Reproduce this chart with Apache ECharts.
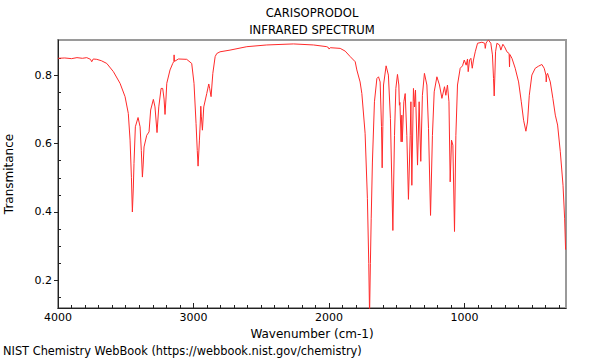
<!DOCTYPE html>
<html>
<head>
<meta charset="utf-8">
<script src="https://cdn.jsdelivr.net/npm/echarts@6/dist/echarts.min.js"></script>
<style>html,body{margin:0;padding:0;background:#fff}#c{width:600px;height:360px}</style>
</head>
<body>
<div id="c"></div>
<script>
const titleLines = ['CARISOPRODOL', 'INFRARED SPECTRUM'];
const xName = 'Wavenumber (cm-1)';
const yName = 'Transmitance';
const footer = 'NIST Chemistry WebBook (https://webbook.nist.gov/chemistry)';
const xMajorTicks = [1000, 2000, 3000, 4000];
const xMinorTicks = [300,400,500,600,700,800,900,1100,1200,1300,1400,1500,1600,1700,1800,1900,2100,2200,2300,2400,2500,2600,2700,2800,2900,3100,3200,3300,3400,3500,3600,3700,3800,3900];
const yMajorTicks = [0.2, 0.4, 0.6, 0.8];
const yMinorTicks = [0.15, 0.25, 0.3, 0.35, 0.45, 0.5, 0.55, 0.65, 0.7, 0.75, 0.85];

const wavenumber = [4000,3950,3900,3860,3820,3788,3760,3751,3740,3714,3680,3640,3591,3542,3505,3481,3468,3458,3451,3444,3439,3429,3409,3394,3385,3377,3371,3365,3345,3328,3316,3296,3284,3269,3256,3239,3227,3217,3210,3203,3197,3173,3153,3145,3143,3140,3111,3050,3013,2996,2981,2972,2966,2956,2950,2946,2942,2934,2924,2902,2887,2880,2870,2857,2840,2828,2804,2730,2606,2459,2262,2114,2016,2003,1999,1990,1917,1880,1843,1806,1794,1770,1757,1733,1716,1706,1700,1694,1688,1679,1664,1646,1634,1622,1612,1607,1602,1597,1578,1561,1546,1528,1516,1506,1494,1484,1480,1476,1467,1462,1459,1447,1437,1425,1413,1400,1395,1388,1378,1376,1368,1361,1346,1334,1322,1310,1295,1277,1265,1250,1236,1223,1203,1184,1166,1147,1137,1125,1114,1105,1095,1085,1073,1063,1051,1031,1014,1001,987,977,972,962,952,942,933,920,903,871,850,846,840,834,822,805,793,785,780,775,770,760,741,731,716,704,686,670,667,664,649,625,600,580,563,546,534,521,502,477,453,428,411,398,396,392,386,366,347,329,312,292,272,260,253];
const transmittance = [0.849,0.850,0.848,0.851,0.849,0.851,0.846,0.839,0.847,0.846,0.842,0.834,0.810,0.776,0.737,0.688,0.610,0.500,0.400,0.470,0.542,0.649,0.676,0.649,0.580,0.502,0.540,0.590,0.624,0.634,0.698,0.729,0.707,0.632,0.707,0.761,0.761,0.730,0.685,0.730,0.776,0.815,0.834,0.840,0.859,0.840,0.847,0.846,0.834,0.776,0.659,0.580,0.534,0.610,0.660,0.709,0.680,0.639,0.707,0.746,0.774,0.760,0.737,0.805,0.854,0.863,0.868,0.873,0.883,0.888,0.891,0.888,0.883,0.880,0.876,0.880,0.878,0.870,0.854,0.839,0.815,0.780,0.746,0.630,0.440,0.250,0.100,0.250,0.380,0.546,0.722,0.790,0.795,0.780,0.650,0.529,0.650,0.771,0.827,0.800,0.673,0.346,0.624,0.761,0.802,0.771,0.712,0.720,0.605,0.683,0.605,0.722,0.746,0.624,0.437,0.624,0.722,0.478,0.722,0.761,0.707,0.756,0.537,0.722,0.548,0.741,0.805,0.771,0.644,0.390,0.624,0.751,0.795,0.771,0.732,0.766,0.741,0.771,0.722,0.488,0.610,0.595,0.343,0.624,0.771,0.820,0.827,0.844,0.829,0.847,0.810,0.844,0.849,0.820,0.844,0.868,0.893,0.896,0.893,0.878,0.893,0.898,0.902,0.893,0.859,0.790,0.739,0.800,0.868,0.893,0.888,0.873,0.890,0.883,0.868,0.863,0.824,0.860,0.849,0.820,0.780,0.722,0.668,0.636,0.663,0.741,0.800,0.820,0.826,0.831,0.820,0.800,0.780,0.800,0.805,0.780,0.732,0.683,0.654,0.576,0.478,0.380,0.290];

const X_MIN = 250, X_MAX = 4000, Y_MIN = 0.1195, Y_MAX = 0.9025;
const FONT = 'DejaVu Sans';
const chart = echarts.init(document.getElementById('c'), null, {renderer: 'svg'});
const seriesData = wavenumber.map((w, i) => [w, transmittance[i]]);
const gridDef = {left: 58, right: 34, top: 40, bottom: 52};

chart.setOption({
  animation: false,
  backgroundColor: '#fff',
  textStyle: {fontFamily: FONT},
  grid: Object.assign({show: true, borderColor: '#9a9a9a', borderWidth: 2, backgroundColor: 'transparent', containLabel: false, outerBoundsMode: 'none'}, gridDef),
  graphic: [
    {type: 'text', left: 3, top: 345, style: {text: footer, font: '11.4px "DejaVu Sans"', fill: '#000'}},
    {type: 'text', x: 312, y: 7, style: {text: titleLines[0], font: '11.6px "DejaVu Sans"', fill: '#000', align: 'center'}},
    {type: 'text', x: 312, y: 24, style: {text: titleLines[1], font: '11.6px "DejaVu Sans"', fill: '#000', align: 'center'}}
  ],
  xAxis: [
    {
      type: 'value', inverse: true, min: X_MIN, max: X_MAX, position: 'bottom',
      name: xName, nameLocation: 'middle', nameGap: 20,
      nameTextStyle: {fontFamily: FONT, fontSize: 12, color: '#000'},
      axisLine: {show: true, onZero: false, lineStyle: {color: '#222', width: 1}},
      axisTick: {show: true, inside: true, length: 5, customValues: xMajorTicks, lineStyle: {color: '#222'}},
      axisLabel: {show: true, customValues: xMajorTicks, fontFamily: FONT, fontSize: 11, color: '#000', margin: 4, formatter: v => String(v)},
      splitLine: {show: false}
    },
    {
      type: 'value', inverse: true, min: X_MIN, max: X_MAX, position: 'bottom',
      axisLine: {show: false, onZero: false},
      axisTick: {show: true, inside: true, length: 3, customValues: xMinorTicks, lineStyle: {color: '#222'}},
      axisLabel: {show: false},
      splitLine: {show: false}
    }
  ],
  yAxis: [
    {
      type: 'value', min: Y_MIN, max: Y_MAX, position: 'left',
      name: yName, nameLocation: 'middle', nameGap: 43, nameRotate: 90,
      nameTextStyle: {fontFamily: FONT, fontSize: 12, color: '#000'},
      axisLine: {show: true, onZero: false, lineStyle: {color: '#222', width: 1}},
      axisTick: {show: true, inside: false, length: 4, customValues: yMajorTicks, lineStyle: {color: '#222'}},
      axisLabel: {show: true, customValues: yMajorTicks, fontFamily: FONT, fontSize: 11, color: '#000', margin: 6, formatter: v => v.toFixed(1)},
      splitLine: {show: false}
    },
    {
      type: 'value', min: Y_MIN, max: Y_MAX, position: 'left',
      axisLine: {show: false, onZero: false},
      axisTick: {show: true, inside: true, length: 3, customValues: yMinorTicks, lineStyle: {color: '#222'}},
      axisLabel: {show: false},
      splitLine: {show: false}
    }
  ],
  series: [{
    type: 'line', xAxisIndex: 0, yAxisIndex: 0, data: seriesData,
    showSymbol: false, symbol: 'none', clip: true,
    lineStyle: {color: '#ff2a2a', width: 1}
  }]
});
</script>
</body>
</html>
